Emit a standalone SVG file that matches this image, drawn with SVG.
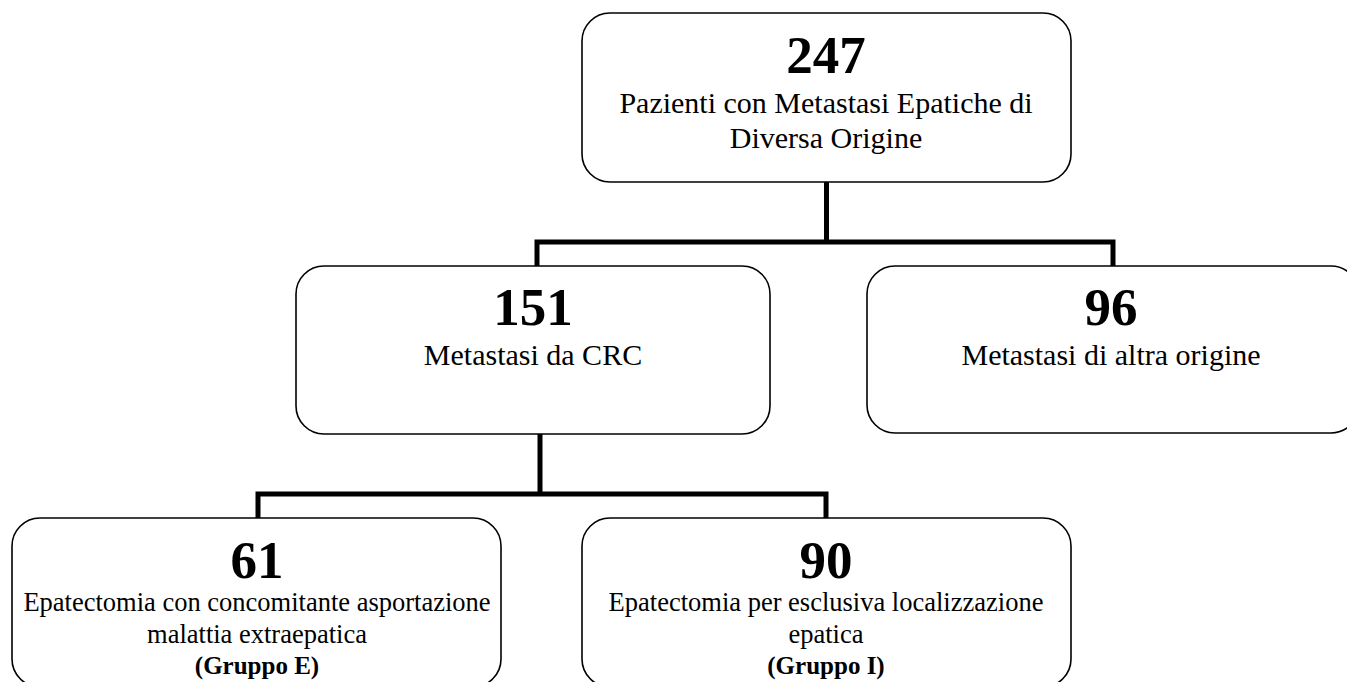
<svg xmlns="http://www.w3.org/2000/svg" width="1347" height="682" viewBox="0 0 1347 682">
<style>
.box{fill:#fff;stroke:#000;stroke-width:1.6}
.num{font-family:"Liberation Serif","Times New Roman",serif;font-weight:bold;font-size:53px;text-anchor:middle;fill:#000}
.lbl{font-family:"Liberation Serif","Times New Roman",serif;font-size:30px;text-anchor:middle;fill:#000}
.sm{font-family:"Liberation Serif","Times New Roman",serif;font-size:26.5px;text-anchor:middle;fill:#000}
.grp{font-family:"Liberation Serif","Times New Roman",serif;font-weight:bold;font-size:25px;text-anchor:middle;fill:#000}
.conn{fill:none;stroke:#000;stroke-width:5;stroke-linejoin:miter}
</style>
<rect width="1347" height="682" fill="#fff"/>
<g id="connectors">
<path class="conn" d="M826.5,182 V242 M537,266 V242 H1113 V266"/>
<path class="conn" d="M540,434 V494 M258,518 V494 H826 V518"/>
</g>
<g id="n247">
<rect class="box" x="582" y="13" width="489" height="169" rx="28"/>
<text class="num" x="826" y="73">247</text>
<text class="lbl" x="826" y="113">Pazienti con Metastasi Epatiche di</text>
<text class="lbl" x="826" y="148">Diversa Origine</text>
</g>
<g id="n151">
<rect class="box" x="296" y="266" width="474" height="168" rx="28"/>
<text class="num" x="533" y="325">151</text>
<text class="lbl" x="533" y="365">Metastasi da CRC</text>
</g>
<g id="n96">
<rect class="box" x="867" y="266" width="492" height="167" rx="28"/>
<text class="num" x="1111" y="325">96</text>
<text class="lbl" x="1111" y="365">Metastasi di altra origine</text>
</g>
<g id="n61">
<rect class="box" x="12" y="518" width="489" height="169" rx="28"/>
<text class="num" x="257" y="578">61</text>
<text class="sm" x="257" y="611">Epatectomia con concomitante asportazione</text>
<text class="sm" x="257" y="643">malattia extraepatica</text>
<text class="grp" x="257" y="674">(Gruppo E)</text>
</g>
<g id="n90">
<rect class="box" x="582" y="518" width="489" height="169" rx="28"/>
<text class="num" x="826" y="578">90</text>
<text class="sm" x="826" y="611">Epatectomia per esclusiva localizzazione</text>
<text class="sm" x="826" y="643">epatica</text>
<text class="grp" x="826" y="674">(Gruppo I)</text>
</g>
</svg>
